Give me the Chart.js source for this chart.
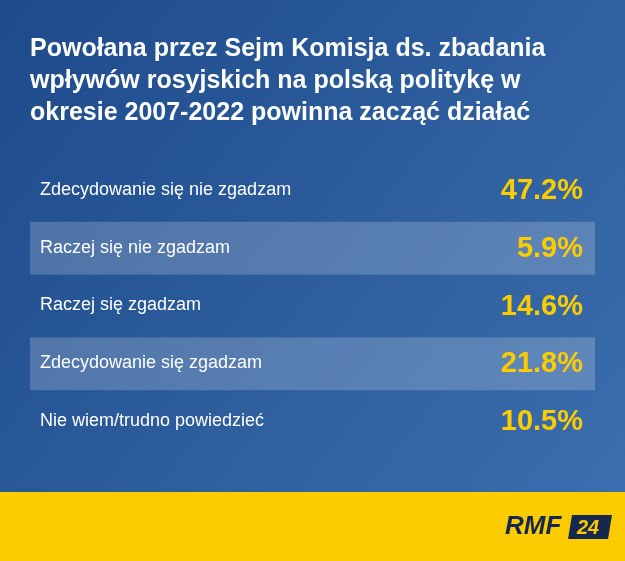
<!DOCTYPE html>
<html><head><meta charset="utf-8">
<script src="https://cdn.jsdelivr.net/npm/chart.js@4"></script>
<style>html,body{margin:0;padding:0;}canvas{display:block;}</style>
</head><body>
<div style="width:625px;height:561px;position:relative"><canvas id="c"></canvas></div>
<script>
const titleLines = ["Powołana przez Sejm Komisja ds. zbadania","wpływów rosyjskich na polską politykę w","okresie 2007-2022 powinna zacząć działać"];
const categories = ["Zdecydowanie się nie zgadzam","Raczej się nie zgadzam","Raczej się zgadzam","Zdecydowanie się zgadzam","Nie wiem/trudno powiedzieć"];
const values = [47.2, 5.9, 14.6, 21.8, 10.5];

const deco = {
  id:'deco',
  beforeDraw(chart){
    const {ctx,width,height} = chart;
    const g = ctx.createLinearGradient(0,0,width,492);
    g.addColorStop(0,'#1d4a8a'); g.addColorStop(1,'#3b6eae');
    ctx.fillStyle=g; ctx.fillRect(0,0,width,492);
    ctx.fillStyle='#fccc00'; ctx.fillRect(0,492,width,height-492);
    ctx.fillStyle='#fff'; ctx.font='bold 25px "Liberation Sans", Arial, sans-serif';
    ctx.textBaseline='middle'; ctx.textAlign='left';
    titleLines.forEach((t,i)=>ctx.fillText(t,30,49+i*32));
    ctx.save();
    ctx.font='italic bold 26px "Liberation Sans", Arial, sans-serif';
    ctx.fillStyle='#17284f'; ctx.fillText('RMF',505,527);
    ctx.beginPath(); ctx.moveTo(572,515); ctx.lineTo(612,515); ctx.lineTo(608,539); ctx.lineTo(568,539); ctx.closePath(); ctx.fill();
    ctx.fillStyle='#fccc00'; ctx.font='italic bold 20px "Liberation Sans", Arial, sans-serif';
    ctx.fillText('24',577,528);
    ctx.restore();
    const y = chart.scales.y, a = chart.chartArea;
    categories.forEach((c,i)=>{
      if(i%2===1){
        const h = (y.getPixelForValue(1)-y.getPixelForValue(0));
        const cy = y.getPixelForValue(i);
        ctx.fillStyle='rgba(255,255,255,0.2)';
        ctx.fillRect(a.left, cy-h/2+3, a.right-a.left, h-5);
      }
    });
  },
  afterDatasetsDraw(chart){
    const {ctx} = chart; const y = chart.scales.y, a = chart.chartArea;
    categories.forEach((c,i)=>{
      const cy = y.getPixelForValue(i);
      ctx.textBaseline='middle';
      ctx.fillStyle='#fff'; ctx.textAlign='left';
      ctx.font='18px "Liberation Sans", Arial, sans-serif';
      ctx.fillText(c, a.left+10, cy);
      ctx.fillStyle='#fccc00'; ctx.textAlign='right';
      ctx.font='bold 29px "Liberation Sans", Arial, sans-serif';
      ctx.fillText(values[i].toFixed(1)+'%', a.right-12, cy+1);
    });
  }
};

new Chart(document.getElementById('c'),{
  type:'bar',
  data:{labels:categories,datasets:[{data:values,backgroundColor:'rgba(0,0,0,0)'}]},
  options:{
    indexAxis:'y', responsive:true, maintainAspectRatio:false, animation:false,
    layout:{padding:{top:161,bottom:111,left:30,right:30}},
    plugins:{legend:{display:false},tooltip:{enabled:false}},
    scales:{x:{display:false,min:0,max:100},y:{display:false}}
  },
  plugins:[deco]
});
</script>
</body></html>
